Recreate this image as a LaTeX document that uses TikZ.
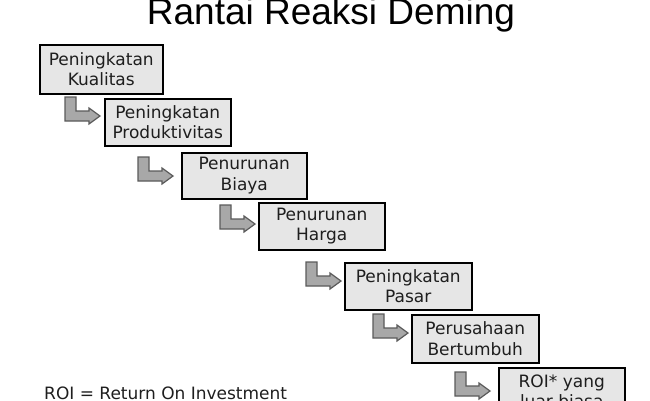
\documentclass[tikz,border=0pt]{standalone}
\usepackage{fontspec}
\setmainfont{DejaVu Sans}
\newfontfamily\titlefont{Liberation Sans}
\definecolor{boxgray}{HTML}{E6E6E6}
\definecolor{arrowfill}{HTML}{A8A8A8}
\definecolor{arrowline}{HTML}{5A5A5A}
\definecolor{ink}{HTML}{1E1E1E}
\tikzset{
  stepbox/.style={draw=black, line width=1.5pt, fill=boxgray, rectangle,
    anchor=north west, inner sep=0pt, minimum width=126pt, minimum height=47pt,
    align=center, text=ink, font=\fontsize{17}{20.5}\selectfont},
  elbowstyle/.style={fill=arrowfill, draw=arrowline, line width=1.2pt, line join=miter},
  elbow/.pic={\path[elbowstyle] (0,0) -- (11,0) -- (11,14) -- (24,14) -- (24,11)
      -- (35,19) -- (24,27) -- (24,24) -- (0,24) -- cycle;}
}
\begin{document}
\begin{tikzpicture}[x=1pt,y=-1pt]
\useasboundingbox (0,0) rectangle (650,400);
\begin{scope}
\clip (0,0) rectangle (650,400);
\node[anchor=base, font=\titlefont\fontsize{37}{40}\selectfont, text=black] (title) at (331,24) {Rantai Reaksi Deming};

\node[stepbox, minimum width=123pt, minimum height=49pt] (b1) at (39,44) {Peningkatan\\Kualitas};
\node[stepbox] (b2) at (104,98) {Peningkatan\\Produktivitas};
\node[stepbox, minimum width=125pt, minimum height=46pt] (b3) at (181,152) {Penurunan\\Biaya};
\node[stepbox] (b4) at (258,202) {Penurunan\\Harga};
\node[stepbox, minimum width=127pt] (b5) at (344,262) {Peningkatan\\Pasar};
\node[stepbox, minimum width=127pt, minimum height=48pt] (b6) at (411,314) {Perusahaan\\Bertumbuh};
\node[stepbox] (b7) at (498,367) {ROI* yang\\luar biasa};

\pic (a1) at (65,97) {elbow};
\pic (a2) at (138,157) {elbow};
\pic (a3) at (220,205) {elbow};
\pic (a4) at (306,262) {elbow};
\pic (a5) at (373,314) {elbow};
\pic (a6) at (455,372) {elbow};

\node[anchor=base west, inner sep=0pt, text=ink, font=\fontsize{17}{20}\selectfont] (note) at (44,399) {ROI = Return On Investment};
\end{scope}
\end{tikzpicture}
\end{document}
